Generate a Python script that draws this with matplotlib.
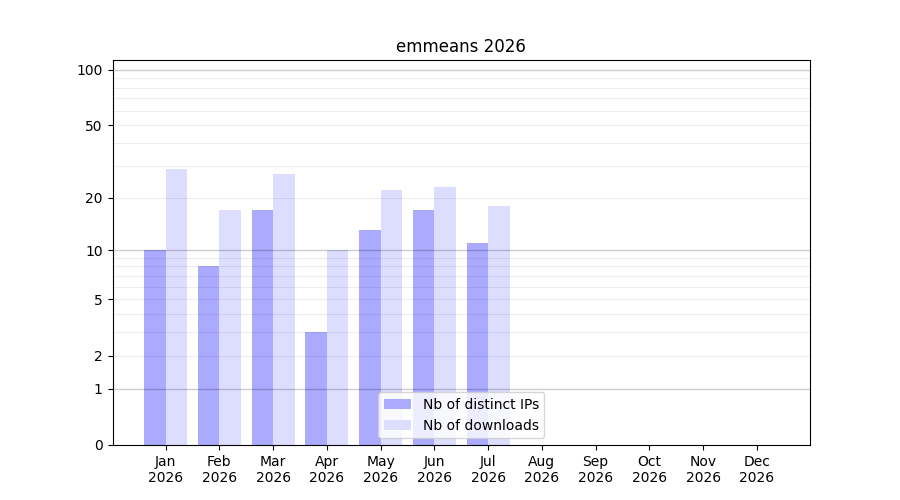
import matplotlib
matplotlib.use("Agg")
import matplotlib.pyplot as plt
import numpy as np

months = ["Jan", "Feb", "Mar", "Apr", "May", "Jun", "Jul", "Aug", "Sep", "Oct", "Nov", "Dec"]
year = "2026"
ips = [10, 8, 17, 3, 13, 17, 11, 0, 0, 0, 0, 0]
downloads = [29, 17, 27, 10, 22, 23, 18, 0, 0, 0, 0, 0]
yticks = [0, 1, 2, 5, 10, 20, 50, 100]


def fwd(v):
    return np.log10(np.asarray(v) + 1)


def inv(v):
    return 10 ** np.asarray(v) - 1


fig, ax = plt.subplots(figsize=(9, 5), dpi=100)
x = np.arange(len(months))
ax.bar(x, ips, width=-0.4, align="edge", color="#aaaaff", label="Nb of distinct IPs", zorder=1)
ax.bar(x, downloads, width=0.4, align="edge", color="#ddddff", label="Nb of downloads", zorder=1)

ax.set_yscale("function", functions=(fwd, inv))
ax.set_ylim(0, 113)
ax.set_yticks(yticks)
ax.set_yticklabels([str(t) for t in yticks])
ax.minorticks_off()

# grid lines drawn by hand, semi-transparent over the bars
for v in [1, 10, 100]:
    ax.axhline(v, color="black", alpha=0.2, lw=1, zorder=2)
for dec in [1, 10]:
    for m in range(2, 10):
        ax.axhline(dec * m, color="black", alpha=0.07, lw=0.8, zorder=2)

ax.set_xticks(x)
ax.set_xticklabels([f"{m}\n{year}" for m in months])
ax.set_title(f"emmeans {year}")
leg = ax.legend(loc="lower center")
leg.set_zorder(5)

fig.savefig("out.png")
